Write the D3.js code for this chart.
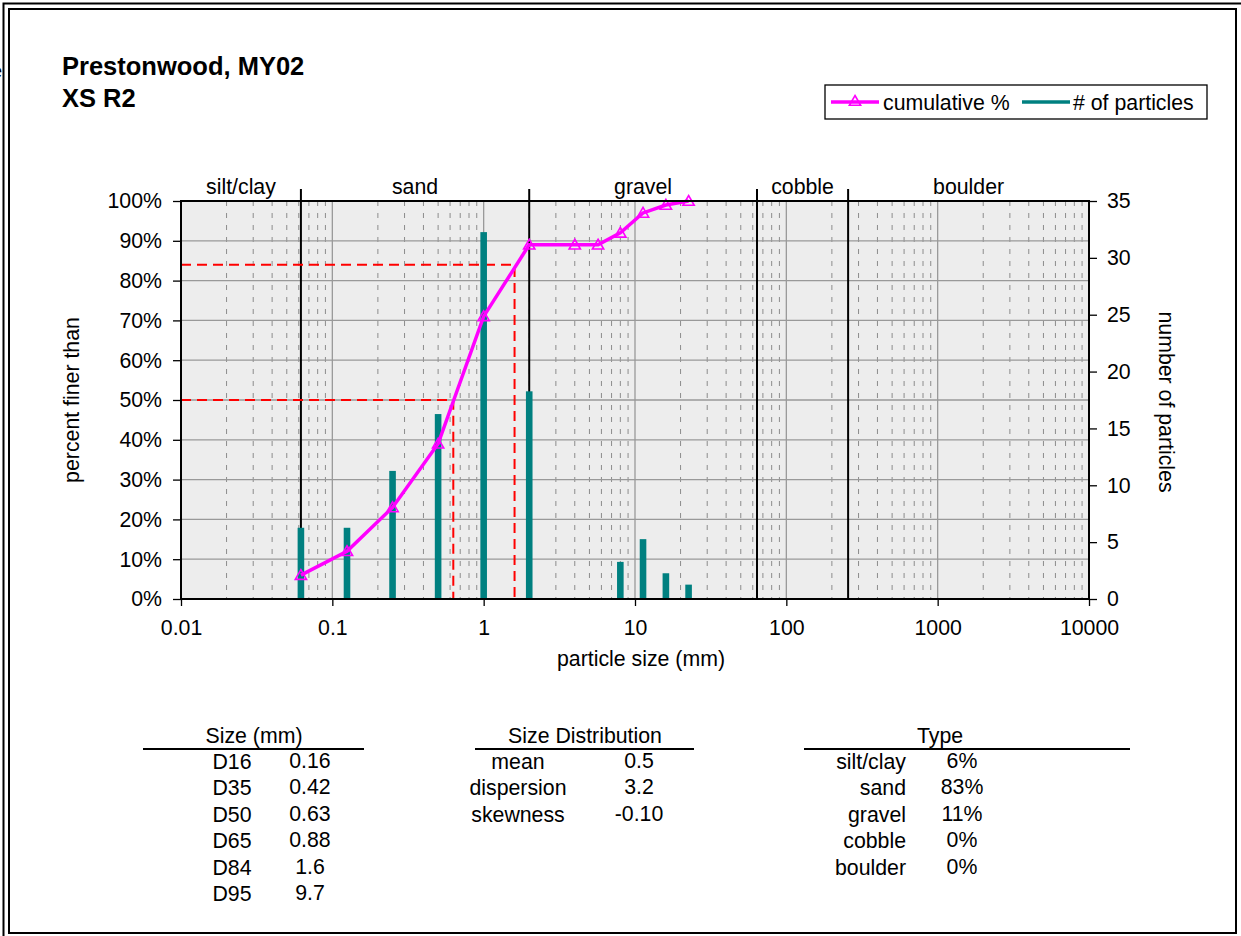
<!DOCTYPE html>
<html>
<head>
<meta charset="utf-8">
<script src="https://cdn.jsdelivr.net/npm/d3@7"></script>
<style>
  body { margin: 0; background: #fff; }
  text { font-family: "Liberation Sans", Arial, sans-serif; fill: #000; }
</style>
</head>
<body>
<div id="chart"></div>
<script>
// particle sizes (mm) and results
var sizes = [0.062, 0.125, 0.25, 0.5, 1, 2, 4, 5.7, 8, 11.3, 16, 22.6];
var cumulative = [6, 12, 23, 39, 71, 89, 89, 89, 92, 97, 99, 100];
var counts = [6, 6, 11, 16, 32, 18, 0, 0, 3, 5, 2, 1];

var zoneNames = ["silt/clay", "sand", "gravel", "cobble", "boulder"];
var zoneEdges = [0.01, 0.062, 2, 64, 256, 10000];

var xTicks = [0.01, 0.1, 1, 10, 100, 1000, 10000];
var leftTicks = [0, 10, 20, 30, 40, 50, 60, 70, 80, 90, 100];
var rightTicks = [0, 5, 10, 15, 20, 25, 30, 35];

// D50 and D84 guide lines
var guides = [{p: 50, d: 0.63}, {p: 84, d: 1.6}];

var sizeLabels = ["D16", "D35", "D50", "D65", "D84", "D95"];
var sizeValues = ["0.16", "0.42", "0.63", "0.88", "1.6", "9.7"];
var distLabels = ["mean", "dispersion", "skewness"];
var distValues = ["0.5", "3.2", "-0.10"];
var typeLabels = ["silt/clay", "sand", "gravel", "cobble", "boulder"];
var typeValues = ["6%", "83%", "11%", "0%", "0%"];

var W = 1241, H = 936;
var pLeft = 181, pRight = 1089, pTop = 201, pBottom = 599;
var fs = "21.3px";

var svg = d3.select("#chart").append("svg")
    .attr("width", W).attr("height", H);

// frame (double line)
svg.append("rect").attr("x", 3.5).attr("y", 3.5).attr("width", 1260).attr("height", 960)
    .attr("fill", "none").attr("stroke", "#000").attr("stroke-width", 2);
svg.append("rect").attr("x", 9).attr("y", 9).attr("width", 1227).attr("height", 924)
    .attr("fill", "none").attr("stroke", "#000").attr("stroke-width", 2);
svg.append("text").attr("x", -9).attr("y", 78).style("font-size", "20px").text("e");

// title
svg.append("text").attr("x", 62).attr("y", 75).style("font-size", "25.5px")
    .style("font-weight", "bold").text("Prestonwood, MY02");
svg.append("text").attr("x", 62).attr("y", 107).style("font-size", "25.5px")
    .style("font-weight", "bold").text("XS R2");

// scales
var x = d3.scaleLog().domain([0.01, 10000]).range([pLeft, pRight]);
var y = d3.scaleLinear().domain([0, 100]).range([pBottom, pTop]);
var y2 = d3.scaleLinear().domain([0, 35]).range([pBottom, pTop]);

// plot background
svg.append("rect").attr("x", pLeft).attr("y", pTop)
    .attr("width", pRight - pLeft).attr("height", pBottom - pTop)
    .attr("fill", "#ededed");

// minor vertical gridlines
var minor = [];
for (var e = -2; e < 4; e++) {
  for (var m = 2; m <= 9; m++) minor.push(m * Math.pow(10, e));
}
svg.append("g").selectAll("line").data(minor).enter().append("line")
    .attr("x1", function(d) { return x(d); }).attr("x2", function(d) { return x(d); })
    .attr("y1", pTop).attr("y2", pBottom)
    .attr("stroke", "#8c8c8c").attr("stroke-width", 1)
    .attr("stroke-dasharray", "5,7");

// major gridlines
svg.append("g").selectAll("line").data(xTicks.slice(1, -1)).enter().append("line")
    .attr("x1", function(d) { return x(d); }).attr("x2", function(d) { return x(d); })
    .attr("y1", pTop).attr("y2", pBottom)
    .attr("stroke", "#999").attr("stroke-width", 1.3);
svg.append("g").selectAll("line").data(leftTicks.slice(1, -1)).enter().append("line")
    .attr("x1", pLeft).attr("x2", pRight)
    .attr("y1", function(d) { return y(d); }).attr("y2", function(d) { return y(d); })
    .attr("stroke", "#999").attr("stroke-width", 1.3);

// zone boundaries
svg.append("g").selectAll("line").data(zoneEdges.slice(1, -1)).enter().append("line")
    .attr("x1", function(d) { return x(d); }).attr("x2", function(d) { return x(d); })
    .attr("y1", pTop - 12).attr("y2", pBottom)
    .attr("stroke", "#000").attr("stroke-width", 2);

// zone labels
svg.append("g").selectAll("text").data(zoneNames).enter().append("text")
    .attr("x", function(d, i) { return (x(zoneEdges[i]) + x(zoneEdges[i + 1])) / 2; })
    .attr("y", 194).attr("text-anchor", "middle").style("font-size", fs)
    .text(function(d) { return d; });

// D50 / D84 red dashed guides
guides.forEach(function(g) {
  svg.append("path")
    .attr("d", "M" + pLeft + "," + y(g.p) + "H" + x(g.d) + "V" + pBottom)
    .attr("fill", "none").attr("stroke", "#ff0000").attr("stroke-width", 2)
    .attr("stroke-dasharray", "10,6");
});

// bars: number of particles
var barData = sizes.map(function(s, i) { return {s: s, c: counts[i]}; })
    .filter(function(d) { return d.c > 0; });
svg.append("g").selectAll("rect").data(barData).enter().append("rect")
    .attr("x", function(d) { return x(d.s) - 3.3; })
    .attr("y", function(d) { return y2(d.c) - 3; })
    .attr("width", 6.6)
    .attr("height", function(d) { return pBottom + 1 - y2(d.c) + 3; })
    .attr("fill", "#008080");

// cumulative line
var cumData = sizes.map(function(s, i) { return {s: s, p: cumulative[i]}; });
svg.append("path").datum(cumData)
    .attr("d", d3.line().x(function(d) { return x(d.s); }).y(function(d) { return y(d.p); }))
    .attr("fill", "none").attr("stroke", "#ff00ff").attr("stroke-width", 3.5);
var tri = d3.symbol().type(d3.symbolTriangle).size(55);
svg.append("g").selectAll("path").data(cumData).enter().append("path")
    .attr("d", tri)
    .attr("transform", function(d) { return "translate(" + x(d.s) + "," + (y(d.p) + 1) + ")"; })
    .attr("fill", "none").attr("stroke", "#ff00ff").attr("stroke-width", 1.6);

// plot border
svg.append("rect").attr("x", pLeft).attr("y", pTop)
    .attr("width", pRight - pLeft).attr("height", pBottom - pTop)
    .attr("fill", "none").attr("stroke", "#000").attr("stroke-width", 2);

// axes
var fmtX = function(d) { return d < 1 ? String(d) : d3.format("d")(d); };
var gx = svg.append("g").attr("transform", "translate(0," + pBottom + ")")
    .call(d3.axisBottom(x).tickValues(xTicks).tickFormat(fmtX).tickSize(7).tickPadding(14));
var gl = svg.append("g").attr("transform", "translate(" + pLeft + ",0)")
    .call(d3.axisLeft(y).tickValues(leftTicks).tickFormat(function(d) { return d + "%"; })
      .tickSize(8).tickPadding(11));
var gr = svg.append("g").attr("transform", "translate(" + pRight + ",0)")
    .call(d3.axisRight(y2).tickValues(rightTicks).tickSize(8).tickPadding(10));
[gx, gl, gr].forEach(function(g) {
  g.select(".domain").remove();
  g.selectAll(".tick line").attr("stroke", "#000").attr("stroke-width", 1.3);
  g.selectAll("text").style("font-size", fs)
    .style("font-family", "'Liberation Sans', Arial, sans-serif");
});

// axis titles
svg.append("text").attr("x", (pLeft + pRight) / 2 + 6).attr("y", 666)
    .attr("text-anchor", "middle").style("font-size", fs).text("particle size (mm)");
svg.append("text").attr("transform", "translate(79,400) rotate(-90)")
    .attr("text-anchor", "middle").style("font-size", fs).text("percent finer than");
svg.append("text").attr("transform", "translate(1159,402) rotate(90)")
    .attr("text-anchor", "middle").style("font-size", fs).text("number of particles");

// legend
var lg = svg.append("g");
lg.append("rect").attr("x", 825).attr("y", 85).attr("width", 382).attr("height", 34)
    .attr("fill", "#fff").attr("stroke", "#000").attr("stroke-width", 1.3);
lg.append("line").attr("x1", 831).attr("x2", 879).attr("y1", 102).attr("y2", 102)
    .attr("stroke", "#ff00ff").attr("stroke-width", 3.5);
lg.append("path").attr("d", tri).attr("transform", "translate(855,102)")
    .attr("fill", "none").attr("stroke", "#ff00ff").attr("stroke-width", 1.6);
lg.append("text").attr("x", 883).attr("y", 110).style("font-size", fs).text("cumulative %");
lg.append("line").attr("x1", 1022).attr("x2", 1070).attr("y1", 102).attr("y2", 102)
    .attr("stroke", "#008080").attr("stroke-width", 3.5);
lg.append("text").attr("x", 1073).attr("y", 110).style("font-size", fs).text("# of particles");

// summary tables
function table(title, cx, x1, x2, labels, values, lx, vx, anchor) {
  var g = svg.append("g");
  g.append("text").attr("x", cx).attr("y", 743).attr("text-anchor", "middle")
    .style("font-size", fs).text(title);
  g.append("line").attr("x1", x1).attr("x2", x2).attr("y1", 749).attr("y2", 749)
    .attr("stroke", "#000").attr("stroke-width", 2);
  g.selectAll(".lab").data(labels).enter().append("text")
    .attr("x", lx).attr("y", function(d, i) { return 769 + i * 26.4; })
    .attr("text-anchor", anchor).style("font-size", fs).text(function(d) { return d; });
  g.selectAll(".val").data(values).enter().append("text")
    .attr("x", vx).attr("y", function(d, i) { return 768 + i * 26.4; })
    .attr("text-anchor", "middle").style("font-size", fs).text(function(d) { return d; });
}
table("Size (mm)", 254, 143, 364, sizeLabels, sizeValues, 232, 310, "middle");
table("Size Distribution", 585, 475, 694, distLabels, distValues, 518, 639, "middle");
table("Type", 940, 804, 1130, typeLabels, typeValues, 906, 962, "end");
</script>
</body>
</html>
